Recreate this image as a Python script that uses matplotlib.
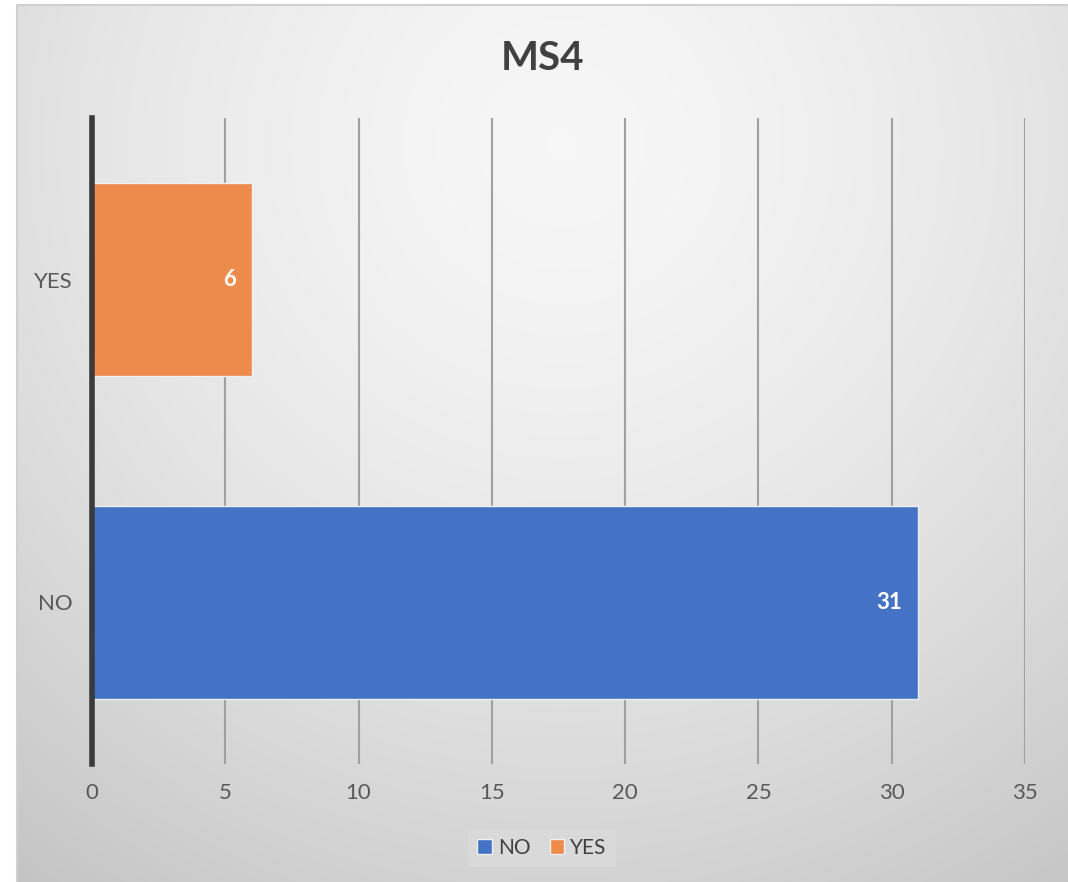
import numpy as np
import matplotlib
matplotlib.use("Agg")
import matplotlib.pyplot as plt
from matplotlib.patches import Patch

categories = ["NO", "YES"]
values = [31, 6]
colors = ["#4472C4", "#ED8B4D"]
xticks = [0, 5, 10, 15, 20, 25, 30, 35]
title = "MS4"

plt.rcParams['font.family'] = ['Lato', 'DejaVu Sans']

W, H = 1068, 882
fig = plt.figure(figsize=(W / 100, H / 100), dpi=100)
fig.patch.set_facecolor("white")

# background gradient panel
bx0, by0 = 17 / W, 0.0
bw, bh = 1 - bx0, 1 - 5 / H
bg = fig.add_axes([bx0, by0, bw, bh], zorder=0)
yy, xx = np.mgrid[0:H, 0:W - 17]
cx, cy = 545, 140
d = np.sqrt((xx - cx) ** 2 + (yy - cy) ** 2) / 900.0
v = 0.965 - 0.19 * np.clip(d, 0, 1.2) ** 1.6
img = np.dstack([v, v, v])
bg.imshow(img, aspect="auto", extent=[0, 1, 0, 1], origin="upper")
bg.plot([0, 0, 1], [0, 1, 1], transform=bg.transAxes, color="#d0d0d0",
        linewidth=1.5, clip_on=False)
bg.set_axis_off()

ax = fig.add_axes([92 / W, 1 - 764 / H, (1025 - 92) / W, (764 - 118) / H], zorder=1)
ax.patch.set_alpha(0)
y = np.arange(len(categories))
bars = ax.barh(y, values, height=0.6, color=colors, edgecolor="#f0f0f0",
               linewidth=1.0, zorder=3)
ax.set_xlim(0, 35)
ax.set_ylim(-0.5, 1.5)
ax.set_xticks(xticks)
ax.set_yticks(y)
ax.set_yticklabels(categories)
ax.grid(axis="x", color="#a0a0a0", linewidth=1.5, zorder=1)
ax.set_axisbelow(True)
for s in ["top", "right", "bottom"]:
    ax.spines[s].set_visible(False)
ax.spines["left"].set_color("#3a3a3a")
ax.spines["left"].set_linewidth(4)
ax.spines["left"].set_zorder(4)
ax.tick_params(axis="both", length=0, labelsize=16, labelcolor="#595959")
ax.tick_params(axis="x", pad=14)
ax.tick_params(axis="y", pad=22)
for lab in ax.get_yticklabels():
    lab.set_x(-0.0) 
ax.tick_params(axis="y", pad=23)

for b, val in zip(bars, values):
    off = 1.1 if val >= 10 else 0.85
    ax.text(b.get_width() - off, b.get_y() + b.get_height() / 2, str(val),
            ha="center", va="center", color="white", fontsize=16,
            fontweight="bold", zorder=5)

fig.text(0.5 * (17 / W) + 0.5, 1 - 58 / H, title, ha="center", va="center",
         fontsize=29, fontweight="bold", color="#404040")

handles = [Patch(facecolor=c, edgecolor="#f0f0f0") for c in colors]
leg = fig.legend(handles, categories, loc="center", bbox_to_anchor=(542 / W, 1 - 848 / H),
                 ncol=2, frameon=True, fontsize=15, handlelength=0.7, handleheight=0.7,
                 handletextpad=0.3, columnspacing=0.9, borderpad=0.45)
leg.get_frame().set_facecolor("#d9d9d9")
leg.get_frame().set_edgecolor("none")
leg.get_frame().set_alpha(1)
leg.get_frame().set_boxstyle("square", pad=0)
for t in leg.get_texts():
    t.set_color("#404040")

# y tick labels: position them right-aligned closer to the axis like reference
ax.tick_params(axis="y", pad=23)
for lab in ax.get_yticklabels():
    lab.set_horizontalalignment("right")

fig.canvas.draw()
ax.tick_params(axis="y", pad=23 - 9)

fig.savefig("out.png", dpi=100)
